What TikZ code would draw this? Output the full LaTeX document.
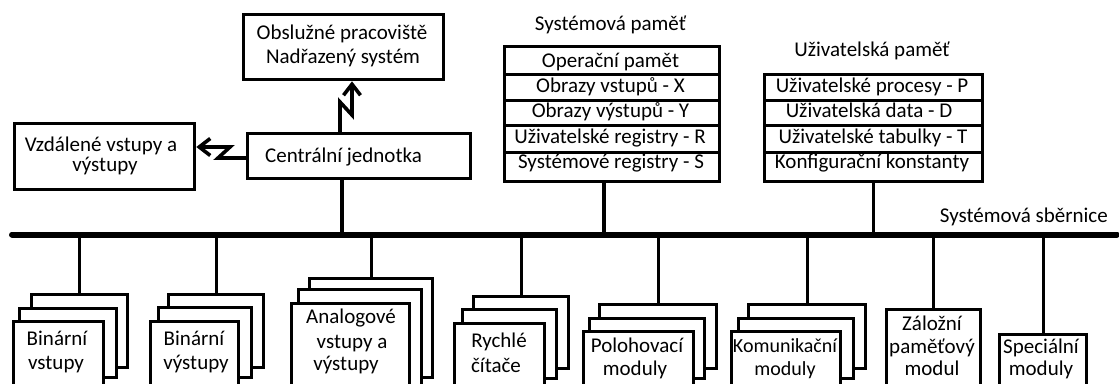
\documentclass[tikz,border=0pt]{standalone}
\usepackage{fontspec}
\setmainfont{Carlito}
\usetikzlibrary{arrows.meta}
\tikzset{
  bx/.style={draw, line width=3.3pt, fill=white, inner sep=0pt, anchor=north west},
  lbl/.style={inner sep=0pt, anchor=base, font=\fontsize{21}{25}\selectfont},
  wire/.style={line width=3.3pt},
  busline/.style={line width=6pt, line cap=round},
  zz/.style={line width=3.6pt, line join=miter, -{Straight Barb[length=11pt,width=17pt]}},
}
\newcommand\bxnode[5]{\node[bx, minimum width={#4pt-#2pt}, minimum height={#5pt-#3pt}] (#1) at (#2,#3) {};}
\begin{document}
\begin{tikzpicture}[x=1pt,y=-1pt]
\useasboundingbox (0,0) rectangle (1119,383);
\fill[white] (0,0) rectangle (1119,383);
\clip (0,0) rectangle (1119,383);

% top boxes
\bxnode{ob}{242}{13}{442}{78}
\bxnode{vz}{13}{122}{193}{188}
\bxnode{cj}{246}{132}{469}{177}
\node[lbl] (ob1) at (342,39) {Obslužné pracoviště};
\node[lbl] (ob2) at (343,63) {Nadřazený systém};
\node[lbl] (vz1) at (101,151) {Vzdálené vstupy a};
\node[lbl] (vz2) at (105,171) {výstupy};
\node[lbl] (cjt) at (343.5,162) {Centrální jednotka};

% lightning connectors
\draw[zz] (cj.north -| 340,0) -- (340,102) -- (352,115) -- (ob.south -| 352,0);
\draw[zz] (cj.west |- 0,158) -- (218,158) -- (230,147) -- (vz.east |- 0,147);

% system memory
\node[lbl] (smt) at (610.5,30) {Systémová paměť};
\bxnode{s1}{503}{45}{718}{73}
\bxnode{s2}{503}{73}{718}{99}
\bxnode{s3}{503}{99}{718}{124}
\bxnode{s4}{503}{124}{718}{151}
\bxnode{s5}{503}{151}{718}{180}
\node[lbl] (s1t) at (610.5,67) {Operační pamět};
\node[lbl] (s2t) at (610.5,92) {Obrazy vstupů - X};
\node[lbl] (s3t) at (610.5,117) {Obrazy výstupů - Y};
\node[lbl] (s4t) at (610,143) {Uživatelské registry - R};
\node[lbl] (s5t) at (611,168) {Systémové registry - S};

% user memory
\node[lbl] (umt) at (872,56) {Uživatelská paměť};
\bxnode{u1}{763}{73}{981}{99}
\bxnode{u2}{763}{99}{981}{124}
\bxnode{u3}{763}{124}{981}{151}
\bxnode{u4}{763}{151}{981}{180}
\node[lbl] (u1t) at (872,92) {Uživatelské procesy - P};
\node[lbl] (u2t) at (869,117) {Uživatelská data - D};
\node[lbl] (u3t) at (873,143) {Uživatelské tabulky - T};
\node[lbl] (u4t) at (872,168) {Konfigurační konstanty};

% bus
\coordinate (busL) at (12,234.5);
\coordinate (busR) at (1117,234.5);
\draw[busline] (busL) -- (busR);
\node[lbl, anchor=base east] (bust) at (1108,222) {Systémová sběrnice};

\draw[wire] (cj.south -| 342,0) -- (busL -| 342,0);
\draw[wire] (s5.south -| 604,0) -- (busL -| 604,0);
\draw[wire] (u4.south) -- (u4.south |- busL);

% module stacks: back, middle, front
\bxnode{b1a}{30}{293}{126}{366}
\bxnode{b1b}{18}{307}{115}{376}
\bxnode{b1c}{12}{320}{102}{400}
\bxnode{b2a}{167}{293}{262}{366}
\bxnode{b2b}{157}{306}{250}{376}
\bxnode{b2c}{149}{320}{237}{400}
\bxnode{b3a}{308}{277}{431}{376}
\bxnode{b3b}{297}{288}{420}{395}
\bxnode{b3c}{290}{302}{408}{400}
\bxnode{b4a}{472}{295}{567}{367}
\bxnode{b4b}{461}{308}{555}{377}
\bxnode{b4c}{453}{322}{543}{400}
\bxnode{b5a}{598}{303}{715}{367}
\bxnode{b5b}{588}{317}{703}{377}
\bxnode{b5c}{582}{330}{692}{400}
\bxnode{b6a}{747}{303}{864}{367}
\bxnode{b6b}{737}{317}{852}{377}
\bxnode{b6c}{730}{330}{839}{400}
\bxnode{b7}{885}{308}{979}{400}
\bxnode{b8}{998}{333}{1085}{400}

\foreach \b in {b1a,b2a,b3a,b4a,b5a,b6a,b7,b8}
  \draw[wire] (\b.north) -- (\b.north |- busL);

\node[lbl] (b1t1) at (57,345) {Binární};
\node[lbl] (b1t2) at (56,369) {vstupy};
\node[lbl] (b2t1) at (194,345) {Binární};
\node[lbl] (b2t2) at (196,369) {výstupy};
\node[lbl] (b3t1) at (351,323) {Analogové};
\node[lbl] (b3t2) at (352,348) {vstupy a};
\node[lbl] (b3t3) at (346,370) {výstupy};
\node[lbl] (b4t1) at (499,347) {Rychlé};
\node[lbl] (b4t2) at (496,372) {čítače};
\node[lbl] (b5t1) at (637,352) {Polohovací};
\node[lbl] (b5t2) at (635,375) {moduly};
\node[lbl, font=\fontsize{20}{24}\selectfont] (b6t1) at (785,352) {Komunikační};
\node[lbl, font=\fontsize{20}{24}\selectfont] (b6t2) at (785,375) {moduly};
\node[lbl] (b7t1) at (932,330) {Záložní};
\node[lbl] (b7t2) at (932,353) {paměťový};
\node[lbl] (b7t3) at (932,375) {modul};
\node[lbl] (b8t1) at (1041,353) {Speciální};
\node[lbl] (b8t2) at (1041,375) {moduly};
\end{tikzpicture}
\end{document}
